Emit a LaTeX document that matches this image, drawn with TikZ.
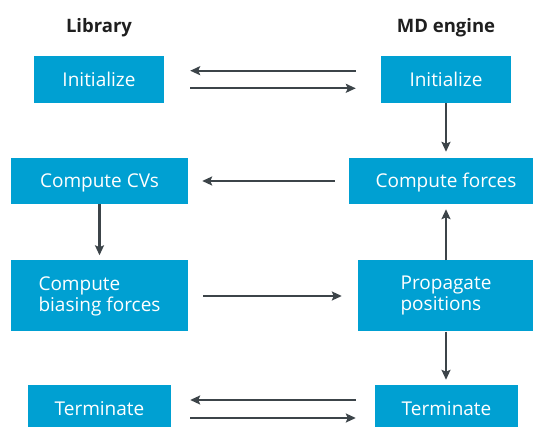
\documentclass[tikz,border=0pt]{standalone}
\usepackage{fontspec}
\setmainfont{Open Sans}
\usetikzlibrary{arrows.meta}
\definecolor{boxblue}{RGB}{0,160,210}
\definecolor{arrowgrey}{RGB}{60,68,73}
\begin{document}
\begin{tikzpicture}[x=1pt,y=-1pt,>={Stealth[length=10pt,width=9pt,inset=2pt]},
 box/.style={fill=boxblue,text=white,inner sep=0pt,align=left,
  font=\fontsize{19}{21}\selectfont,text height=13.6pt,text depth=0pt},
 head/.style={anchor=base,text=black!88,font=\fontsize{18.5}{21}\selectfont\bfseries},
 flow/.style={->,draw=arrowgrey,line width=2.2pt}]
 \useasboundingbox (0,0) rectangle (533,427);
 \clip (0,0) rectangle (533,427);
 \node[head] (lib) at (99,33) {Library};
 \node[head] (md) at (446,33) {MD engine};
 \node[box,minimum width=130pt,minimum height=47pt] (libinit) at (99,79.5) {Initialize};
 \node[box,minimum width=130pt,minimum height=47pt] (mdinit) at (446,79.5) {Initialize};
 \node[box,minimum width=177pt,minimum height=46pt] (cvs) at (99.5,181) {Compute CVs};
 \node[box,minimum width=194pt,minimum height=46pt] (forces) at (446,181) {Compute forces};
 \node[box,minimum width=177pt,minimum height=71pt,text height=,text depth=] (bias) at (99.5,296) {Compute\\biasing forces};
 \node[box,minimum width=176pt,minimum height=71pt,text height=,text depth=] (prop) at (446,296) {Propagate\\positions};
 \node[box,minimum width=143pt,minimum height=47pt] (libterm) at (99.5,408.5) {Terminate};
 \node[box,minimum width=143pt,minimum height=47pt] (mdterm) at (446.5,408.5) {Terminate};
 \draw[flow,shorten <=25pt,shorten >=26pt] ([yshift=8.8pt]mdinit.west) -- ([yshift=8.8pt]libinit.east);
 \draw[flow,shorten <=26pt,shorten >=25pt] ([yshift=-8.8pt]libinit.east) -- ([yshift=-8.8pt]mdinit.west);
 \draw[flow,shorten >=6pt] (mdinit.south) -- (mdinit.south |- forces.north);
 \draw[flow,shorten <=14pt,shorten >=14pt] (forces.west) -- (cvs.east);
 \draw[flow,shorten >=5pt] (cvs.south) -- (bias.north);
 \draw[flow,shorten <=15pt,shorten >=16pt] (bias.east) -- (prop.west);
 \draw[flow,shorten >=5pt] (prop.north) -- (forces.south);
 \draw[flow,shorten >=5pt] (prop.south) -- (prop.south |- mdterm.north);
 \draw[flow,shorten <=19pt,shorten >=19pt] ([yshift=8.5pt]mdterm.west) -- ([yshift=8.5pt]libterm.east);
 \draw[flow,shorten <=19pt,shorten >=19pt] ([yshift=-9.5pt]libterm.east) -- ([yshift=-9.5pt]mdterm.west);
\end{tikzpicture}
\end{document}
